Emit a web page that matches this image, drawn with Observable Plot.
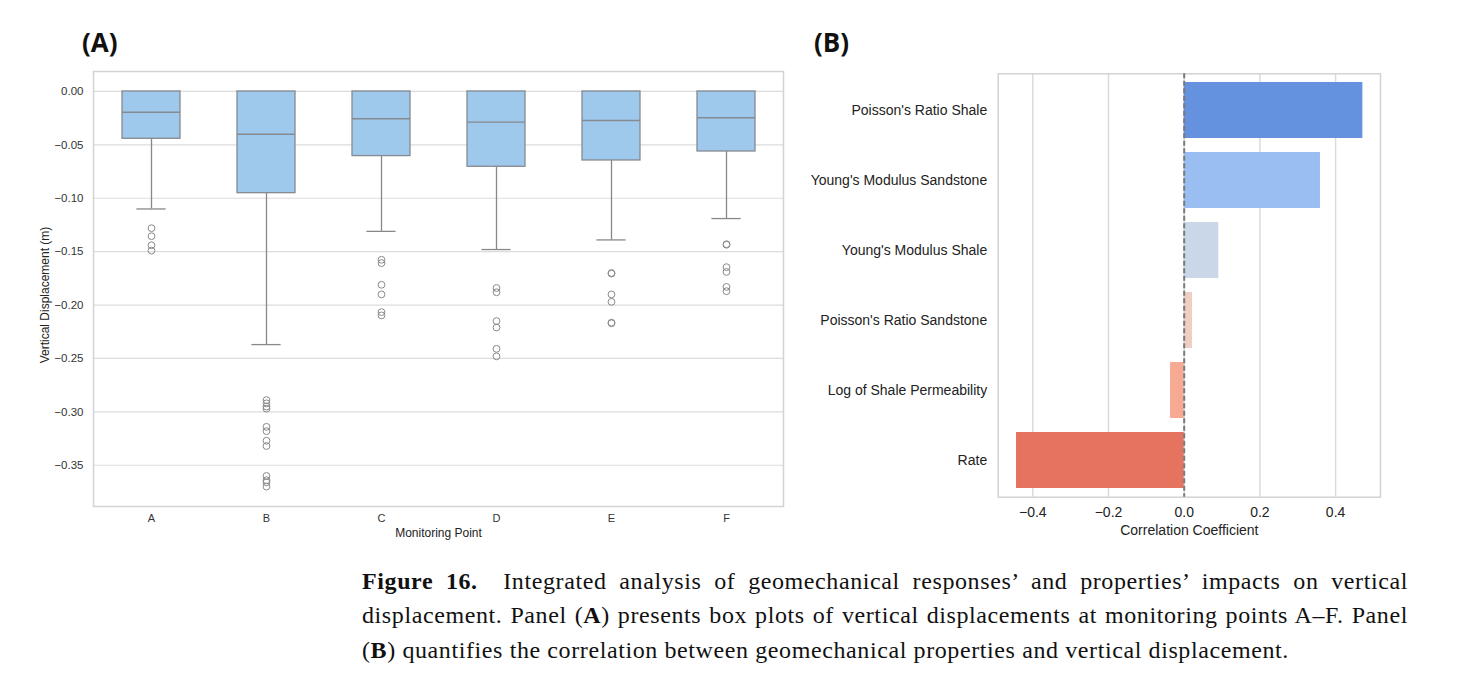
<!DOCTYPE html>
<html>
<head>
<meta charset="utf-8">
<script src="https://cdn.jsdelivr.net/npm/d3@7"></script>
<script src="https://cdn.jsdelivr.net/npm/@observablehq/plot@0.6"></script>
<style>
  html, body { margin: 0; padding: 0; background: #fff; }
  #page { position: relative; width: 1470px; height: 698px; overflow: hidden; background: #fff; }
  .plabel { position: absolute; font-family: "Open Sans", "Liberation Sans", sans-serif; font-weight: 700; font-size: 26px; color: #111; }
  #panelA, #panelB { position: absolute; top: 0; }
  #panelA { left: 0; }
  #panelB { left: 790px; }
  .cap { position: absolute; left: 362px; width: 1046px; font-family: "Liberation Serif", "DejaVu Serif", serif; font-size: 24px; letter-spacing: 0.6px; color: #111; white-space: nowrap; }
  .just { text-align: justify; text-align-last: justify; white-space: normal; }
</style>
</head>
<body>
<div id="page">
  <div class="plabel" style="left:82px; top:24px;">(A)</div>
  <div class="plabel" style="left:814px; top:24px;">(B)</div>
  <div id="panelA"></div>
  <div id="panelB"></div>
  <div class="cap just" style="top:568px;"><b>Figure 16.</b>&nbsp; Integrated analysis of geomechanical responses’ and properties’ impacts on vertical</div>
  <div class="cap just" style="top:602px;">displacement. Panel (<b>A</b>) presents box plots of vertical displacements at monitoring points A–F. Panel</div>
  <div class="cap" style="top:637px;">(<b>B</b>) quantifies the correlation between geomechanical properties and vertical displacement.</div>
</div>
<script>
// ---------- Panel A data ----------
const points = ["A", "B", "C", "D", "E", "F"];
const q3 = [0, 0, 0, 0, 0, 0];
const medians = [-0.0195, -0.040, -0.0256, -0.0287, -0.0272, -0.0246];
const q1 = [-0.0443, -0.0952, -0.0605, -0.0705, -0.0646, -0.0562];
const whiskerLow = [-0.110, -0.237, -0.131, -0.148, -0.139, -0.119];
const outliersA = [-0.128, -0.1355, -0.144, -0.149];
const outliersB = [-0.289, -0.292, -0.295, -0.297, -0.314, -0.318, -0.327, -0.332, -0.360, -0.364, -0.366, -0.370];
const outliersC = [-0.1576, -0.1607, -0.181, -0.190, -0.2066, -0.2097];
const outliersD = [-0.184, -0.188, -0.215, -0.221, -0.241, -0.248];
const outliersE = [-0.170, -0.1705, -0.190, -0.197, -0.2165, -0.217];
const outliersF = [-0.143, -0.1435, -0.1645, -0.169, -0.183, -0.187];
const yTicksA = [0, -0.05, -0.10, -0.15, -0.20, -0.25, -0.30, -0.35];

// ---------- Panel B data ----------
const properties = ["Poisson's Ratio Shale", "Young's Modulus Sandstone", "Young's Modulus Shale", "Poisson's Ratio Sandstone", "Log of Shale Permeability", "Rate"];
const correlations = [0.472, 0.360, 0.0914, 0.022, -0.036, -0.443];
const barColors = ["#6592de", "#9bbef2", "#c9d7e8", "#efcfc3", "#f6aa93", "#e6735f"];
const xTicksB = [-0.4, -0.2, 0.0, 0.2, 0.4];

// ---------- build tables ----------
const boxes = points.map((p, i) => ({point: p, q1: q1[i], q3: q3[i], median: medians[i], lo: whiskerLow[i]}));
const outlierLists = [outliersA, outliersB, outliersC, outliersD, outliersE, outliersF];
const outliers = outlierLists.flatMap((arr, i) => arr.map(v => ({point: points[i], v})));
const bars = properties.map((name, i) => ({name, value: correlations[i], color: barColors[i]}));

const fontA = "Liberation Sans, Arial, sans-serif";

const plotA = Plot.plot({
  width: 800,
  height: 550,
  marginLeft: 93,
  marginRight: 17,
  marginTop: 71,
  marginBottom: 44,
  style: {fontFamily: fontA, fontSize: "11px", color: "#333", background: "transparent"},
  x: {domain: points, paddingInner: 0.5, paddingOuter: 0.25, label: null, tickSize: 0, tickPadding: 8},
  y: {domain: [-0.3886, 0.0187], ticks: yTicksA, tickFormat: d3.format(".2f"), tickSize: 0, tickPadding: 10, label: null},
  marks: [
    Plot.gridY(yTicksA, {stroke: "#dcdcdc", strokeOpacity: 1, strokeWidth: 1.2}),
    Plot.frame({stroke: "#d3d3d3", strokeWidth: 1.5}),
    Plot.ruleX(boxes, {x: "point", y1: "q1", y2: "lo", stroke: "#888", strokeWidth: 1.3}),
    Plot.tickY(boxes, {x: "point", y: "lo", stroke: "#888", strokeWidth: 1.3, insetLeft: 14.4, insetRight: 14.4}),
    Plot.barY(boxes, {x: "point", y1: "q1", y2: "q3", fill: "#9ec8ec", stroke: "#858a90", strokeWidth: 1.3}),
    Plot.tickY(boxes, {x: "point", y: "median", stroke: "#858a90", strokeWidth: 1.4}),
    Plot.dot(outliers, {x: "point", y: "v", r: 3.4, stroke: "#8a8a8a", strokeWidth: 1, fill: "none"}),
    Plot.axisX({tickSize: 0, tickPadding: 8, fontSize: "11px", label: null}),
    Plot.axisY({ticks: yTicksA, tickFormat: d3.format(".2f"), tickSize: 0, tickPadding: 10, fontSize: "11.5px", label: null}),
    Plot.text(["Monitoring Point"], {frameAnchor: "bottom", dy: 30, fontSize: 12, fill: "#222"}),
    Plot.text(["Vertical Displacement (m)"], {frameAnchor: "left", textAnchor: "middle", dx: -48, dy: 6, rotate: -90, fontSize: 12, fill: "#222"})
  ]
});
document.getElementById("panelA").appendChild(plotA);

const plotB = Plot.plot({
  width: 680,
  height: 550,
  marginLeft: 207.7,
  marginRight: 90,
  marginTop: 73.3,
  marginBottom: 53.3,
  style: {fontFamily: fontA, fontSize: "14px", color: "#222", background: "transparent"},
  x: {domain: [-0.4914, 0.5186], ticks: xTicksB, tickFormat: d3.format(".1f"), label: null},
  y: {domain: properties, paddingInner: 0.2, paddingOuter: 0.1, label: null},
  marks: [
    Plot.gridX(xTicksB, {stroke: "#d9d9d9", strokeOpacity: 1, strokeWidth: 1.4}),
    Plot.frame({stroke: "#d3d3d3", strokeWidth: 1.5}),
    Plot.barX(bars, {y: "name", x: "value", fill: "color"}),
    Plot.ruleX([0], {stroke: "#7a7a7a", strokeWidth: 2, strokeDasharray: "5,2.5"}),
    Plot.axisX({ticks: xTicksB, tickFormat: d3.format(".1f"), tickSize: 0, tickPadding: 10, fontSize: "14px", label: null}),
    Plot.axisY({tickSize: 0, tickPadding: 11, label: null, fontSize: "14px"}),
    Plot.text(["Correlation Coefficient"], {frameAnchor: "bottom", dy: 38, fontSize: 14, fill: "#222"})
  ]
});
document.getElementById("panelB").appendChild(plotB);
</script>
</body>
</html>
